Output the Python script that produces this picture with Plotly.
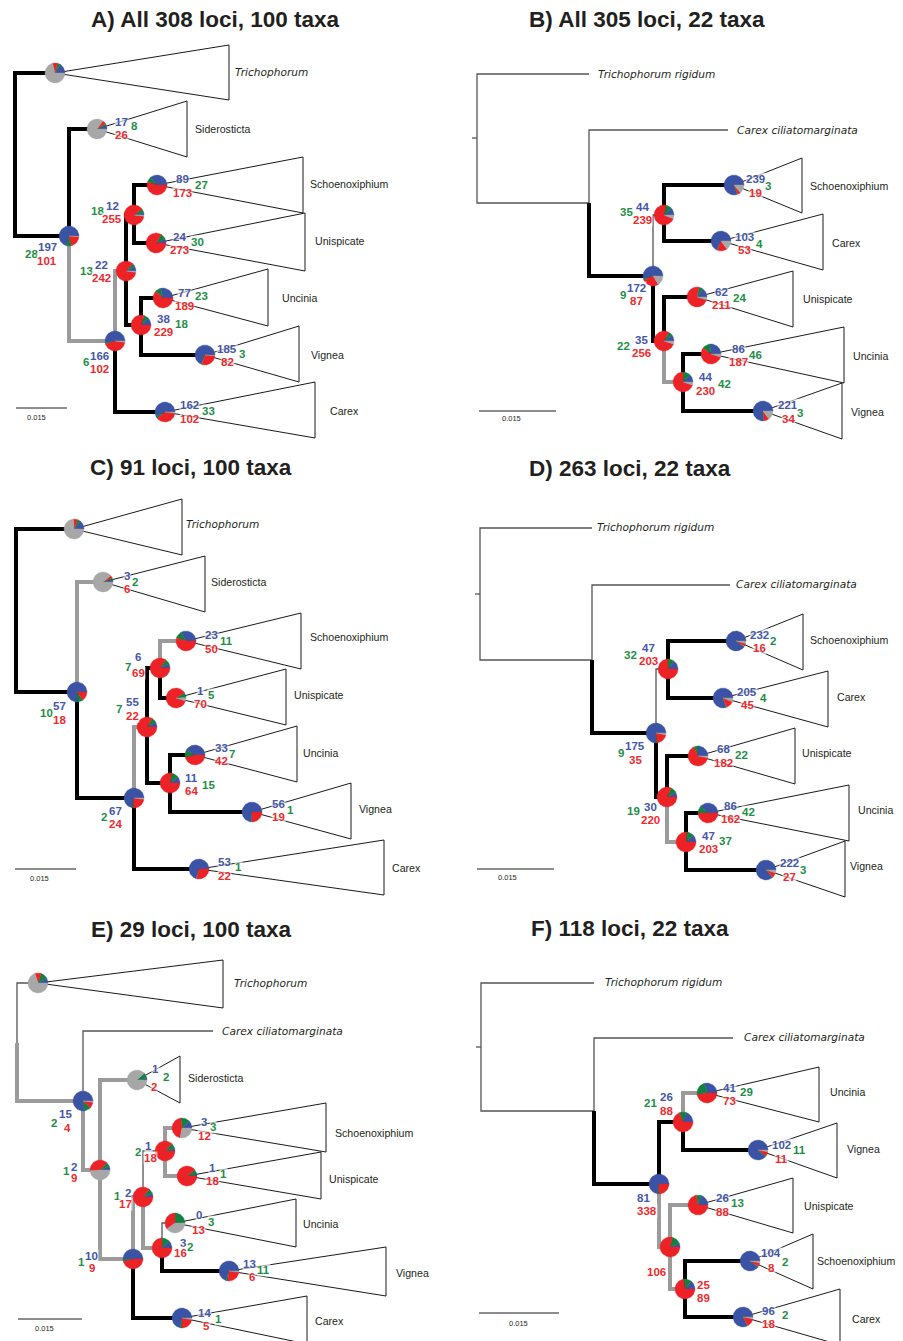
import math
import plotly.graph_objects as go

W, H = 903, 1341
PAGE_MARGIN = 8  # browser body margin; the axes are shifted so that data units equal page pixels

# ---------------- colours ----------------
PIE_COLORS = {"b": "#3A53A4", "g": "#12803F", "r": "#EC2227", "u": "#A7A7A7"}
TXT_COLORS = {"b": "#4457A8", "g": "#1E8E47", "r": "#EE2A2E"}
DARK = "#231F20"

# ---------------- titles ----------------
TITLES = ["A) All 308 loci, 100 taxa", "B) All 305 loci, 22 taxa",
          "C) 91 loci, 100 taxa", "D) 263 loci, 22 taxa",
          "E) 29 loci, 100 taxa", "F) 118 loci, 22 taxa"]
TITLE_XY = [(215, 19), (647, 19), (191, 467), (630, 468), (191, 929), (630, 928)]

CLADE_NAMES = {"tri": "Trichophorum", "sid": "Siderosticta", "sch": "Schoenoxiphium",
               "uni": "Unispicate", "unc": "Uncinia", "vig": "Vignea", "car": "Carex"}
ITALIC_CLADES = {"tri"}

# ================= Panel A =================
A_pos = {"root": (15, 155), "tri": (55, 73), "n1": (69, 236), "sid": (97, 129), "n2": (115, 341),
         "n3": (126, 271), "car": (165, 412), "n4": (134, 215), "sch": (157, 185), "uni": (156, 243),
         "n5": (141, 325), "unc": (163, 298), "vig": (205, 355)}
A_edges = [("root", "tri", "k"), ("root", "n1", "k"), ("n1", "sid", "k"), ("n1", "n2", "g"),
           ("n2", "n3", "g"), ("n2", "car", "k"), ("n3", "n4", "k"), ("n3", "n5", "k"),
           ("n4", "sch", "k"), ("n4", "uni", "k"), ("n5", "unc", "k"), ("n5", "vig", "k")]
# pie shares: concordant (blue), top conflict (green), other conflict (red), uninformative (gray)
A_pie = {"tri": (.16, .05, .08, .71), "sid": (.06, .03, .06, .85), "n1": (.71, .08, .20, .01),
         "n2": (.53, .02, .43, .02), "n3": (.08, .05, .85, .02), "n4": (.04, .06, .88, .02),
         "sch": (.36, .09, .55, 0), "uni": (.07, .09, .84, 0), "n5": (.12, .08, .80, 0),
         "unc": (.29, .09, .62, 0), "vig": (.69, .01, .29, .01), "car": (.57, .04, .37, .02)}
A_counts = {"sid": [("17", "b"), ("8", "g"), ("26", "r")], "n1": [("197", "b"), ("28", "g"), ("101", "r")],
            "n2": [("166", "b"), ("6", "g"), ("102", "r")], "n3": [("22", "b"), ("13", "g"), ("242", "r")],
            "n4": [("12", "b"), ("18", "g"), ("255", "r")], "sch": [("89", "b"), ("27", "g"), ("173", "r")],
            "uni": [("24", "b"), ("30", "g"), ("273", "r")], "n5": [("38", "b"), ("18", "g"), ("229", "r")],
            "unc": [("77", "b"), ("23", "g"), ("189", "r")], "vig": [("185", "b"), ("3", "g"), ("82", "r")],
            "car": [("162", "b"), ("33", "g"), ("102", "r")]}
A_count_xy = {"sid": [(121, 122), (134, 126), (121, 135)], "n1": [(47, 247), (31, 254), (47, 261)],
              "n2": [(99, 356), (86, 362), (99, 369)], "n3": [(101, 265), (86, 271), (101, 278)],
              "n4": [(112, 206), (97, 211), (112, 219)], "sch": [(182, 179), (201, 185), (182, 193)],
              "uni": [(179, 237), (197, 242), (179, 250)], "n5": [(163, 319), (181, 324), (163, 332)],
              "unc": [(184, 293), (201, 296), (184, 306)], "vig": [(227, 349), (242, 354), (227, 362)],
              "car": [(189, 405), (208, 411), (189, 419)]}
A_clade_geo = {"tri": (229, 45, 100, 233, 72), "sid": (187, 101, 157, 193, 129),
               "sch": (303, 157, 213, 308, 184), "uni": (305, 213, 271, 313, 241),
               "unc": (268, 269, 326, 280, 298), "vig": (299, 326, 382, 309, 355),
               "car": (315, 382, 438, 328, 411)}
A_leaves = {}
A_scale = (16, 67, 408, 36, 417)

# ================= Panel B =================
B_pos = {"root": (477, 138), "tr": (589, 74), "n1": (589, 203), "cc": (728, 130), "n2": (653, 276),
         "n3": (664, 215), "sch": (734, 185), "car": (721, 241), "n4": (664, 341), "uni": (697, 297),
         "n5": (683, 382), "unc": (711, 354), "vig": (763, 411)}
B_edges = [("root", "tr", "t"), ("root", "n1", "t"), ("n1", "cc", "t"), ("n1", "n2", "k"),
           ("n2", "n3", "t"), ("n2", "n4", "k"), ("n3", "sch", "k"), ("n3", "car", "k"),
           ("n4", "uni", "k"), ("n4", "n5", "g"), ("n5", "unc", "k"), ("n5", "vig", "k")]
B_pie = {"sch": (.80, .01, .05, .14), "car": (.68, .01, .16, .15), "n2": (.55, .02, .27, .16),
         "n3": (.12, .10, .72, .06), "uni": (.15, .07, .73, .05), "n4": (.10, .07, .78, .05),
         "unc": (.27, .13, .55, .05), "n5": (.13, .12, .70, .05), "vig": (.76, .01, .08, .15)}
B_counts = {"n2": [("172", "b"), ("9", "g"), ("87", "r")], "n3": [("44", "b"), ("35", "g"), ("239", "r")],
            "sch": [("239", "b"), ("3", "g"), ("19", "r")], "car": [("103", "b"), ("4", "g"), ("53", "r")],
            "n4": [("35", "b"), ("22", "g"), ("256", "r")], "uni": [("62", "b"), ("24", "g"), ("211", "r")],
            "n5": [("44", "b"), ("42", "g"), ("230", "r")], "unc": [("86", "b"), ("46", "g"), ("187", "r")],
            "vig": [("221", "b"), ("3", "g"), ("34", "r")]}
B_count_xy = {"n2": [(636, 288), (623, 295), (636, 301)], "n3": [(642, 207), (626, 212), (642, 220)],
              "sch": [(755, 179), (768, 186), (755, 193)], "car": [(744, 237), (759, 244), (744, 250)],
              "n4": [(641, 340), (623, 346), (641, 353)], "uni": [(721, 292), (739, 298), (721, 305)],
              "n5": [(705, 377), (724, 384), (705, 391)], "unc": [(738, 349), (755, 355), (738, 362)],
              "vig": [(788, 405), (800, 413), (788, 419)]}
B_clade_geo = {"sch": (802, 158, 213, 808, 186), "car": (823, 214, 270, 830, 243),
               "uni": (793, 271, 327, 801, 299), "unc": (844, 327, 383, 851, 356),
               "vig": (842, 383, 439, 849, 412)}
B_leaves = {"tr": ("Trichophorum rigidum", 596, 74), "cc": ("Carex ciliatomarginata", 735, 130)}
B_scale = (479, 556, 411, 511, 418)

# ================= Panel C =================
C_pos = {"root": (16, 610), "tri": (74, 529), "n1": (77, 692), "sid": (103, 582), "n2": (134, 798),
         "n3": (147, 727), "car": (199, 869), "n4": (160, 668), "sch": (186, 641), "uni": (176, 698),
         "n5": (170, 783), "unc": (195, 755), "vig": (252, 812)}
C_edges = [("root", "tri", "k"), ("root", "n1", "k"), ("n1", "sid", "g"), ("n1", "n2", "k"),
           ("n2", "n3", "g"), ("n2", "car", "k"), ("n3", "n4", "k"), ("n3", "n5", "k"),
           ("n4", "sch", "g"), ("n4", "uni", "k"), ("n5", "unc", "k"), ("n5", "vig", "k")]
C_pie = {"tri": (.14, .05, .07, .74), "sid": (.04, .03, .04, .89), "n1": (.76, .09, .15, 0),
         "n2": (.72, .02, .24, .02), "n3": (.08, .08, .84, 0), "n4": (.07, .08, .85, 0),
         "sch": (.33, .12, .55, 0), "uni": (.01, .08, .86, .05), "n5": (.10, .12, .78, 0),
         "unc": (.42, .12, .46, 0), "vig": (.74, .01, .25, 0), "car": (.70, .01, .29, 0)}
C_counts = {"sid": [("3", "b"), ("2", "g"), ("6", "r")], "n1": [("57", "b"), ("10", "g"), ("18", "r")],
            "n2": [("67", "b"), ("2", "g"), ("24", "r")], "n3": [("55", "b"), ("7", "g"), ("22", "r")],
            "n4": [("6", "b"), ("7", "g"), ("69", "r")], "sch": [("23", "b"), ("11", "g"), ("50", "r")],
            "uni": [("1", "b"), ("5", "g"), ("70", "r")], "n5": [("11", "b"), ("15", "g"), ("64", "r")],
            "unc": [("33", "b"), ("7", "g"), ("42", "r")], "vig": [("56", "b"), ("1", "g"), ("19", "r")],
            "car": [("53", "b"), ("1", "g"), ("22", "r")]}
C_count_xy = {"sid": [(127, 576), (135, 582), (127, 589)], "n1": [(59, 706), (46, 713), (59, 720)],
              "n2": [(115, 811), (104, 817), (115, 824)], "n3": [(132, 702), (119, 709), (132, 716)],
              "n4": [(138, 657), (128, 667), (138, 673)], "sch": [(211, 635), (226, 641), (211, 649)],
              "uni": [(200, 691), (211, 695), (200, 704)], "n5": [(191, 778), (208, 785), (191, 791)],
              "unc": [(221, 748), (232, 754), (221, 761)], "vig": [(278, 804), (290, 810), (278, 817)],
              "car": [(224, 862), (238, 867), (224, 876)]}
C_clade_geo = {"tri": (182, 499, 555, 184, 524), "sid": (205, 556, 612, 209, 582),
               "sch": (301, 613, 669, 308, 637), "uni": (286, 669, 725, 292, 695),
               "unc": (297, 726, 782, 301, 753), "vig": (351, 783, 839, 357, 809),
               "car": (384, 840, 895, 390, 868)}
C_leaves = {}
C_scale = (15, 76, 869, 39, 878)

# ================= Panel D =================
D_pos = {"root": (480, 594), "tr": (592, 528), "n1": (592, 660), "cc": (730, 585), "n2": (656, 733),
         "n3": (668, 669), "sch": (736, 641), "car": (723, 698), "n4": (667, 797), "uni": (698, 756),
         "n5": (686, 842), "unc": (708, 813), "vig": (766, 870)}
D_edges = [("root", "tr", "t"), ("root", "n1", "t"), ("n1", "cc", "t"), ("n1", "n2", "k"),
           ("n2", "n3", "t"), ("n2", "n4", "k"), ("n3", "sch", "k"), ("n3", "car", "k"),
           ("n4", "uni", "k"), ("n4", "n5", "g"), ("n5", "unc", "k"), ("n5", "vig", "k")]
D_pie = {"n2": (.75, .02, .20, .03), "n3": (.15, .10, .75, 0), "sch": (.90, .01, .05, .04),
         "car": (.80, .01, .13, .06), "n4": (.08, .10, .82, 0), "uni": (.25, .07, .65, .03),
         "n5": (.12, .12, .76, 0), "unc": (.38, .12, .50, 0), "vig": (.86, .01, .08, .05)}
D_counts = {"n2": [("175", "b"), ("9", "g"), ("35", "r")], "n3": [("47", "b"), ("32", "g"), ("203", "r")],
            "sch": [("232", "b"), ("2", "g"), ("16", "r")], "car": [("205", "b"), ("4", "g"), ("45", "r")],
            "n4": [("30", "b"), ("19", "g"), ("220", "r")], "uni": [("68", "b"), ("22", "g"), ("182", "r")],
            "n5": [("47", "b"), ("37", "g"), ("203", "r")], "unc": [("86", "b"), ("42", "g"), ("162", "r")],
            "vig": [("222", "b"), ("3", "g"), ("27", "r")]}
D_count_xy = {"n2": [(635, 746), (621, 753), (635, 760)], "n3": [(648, 648), (630, 655), (648, 661)],
              "sch": [(759, 635), (773, 641), (759, 648)], "car": [(747, 692), (763, 698), (747, 705)],
              "n4": [(650, 807), (633, 811), (650, 820)], "uni": [(723, 749), (741, 755), (723, 763)],
              "n5": [(708, 836), (725, 841), (708, 849)], "unc": [(730, 806), (748, 812), (730, 819)],
              "vig": [(789, 863), (803, 870), (789, 877)]}
D_clade_geo = {"sch": (803, 614, 670, 808, 640), "car": (828, 671, 727, 835, 697),
               "uni": (795, 728, 784, 800, 753), "unc": (849, 785, 841, 856, 810),
               "vig": (845, 841, 897, 848, 866)}
D_leaves = {"tr": ("Trichophorum rigidum", 595, 527), "cc": ("Carex ciliatomarginata", 734, 584)}
D_scale = (477, 554, 869, 507, 877)

# ================= Panel E =================
E_pos = {"root": (17, 1043), "tri": (38, 983), "n1": (83, 1101), "cc": (213, 1031), "sid": (137, 1080),
         "n2": (100, 1170), "n3": (133, 1259), "n4": (143, 1197), "car": (182, 1318), "n5": (165, 1151),
         "sch": (182, 1128), "uni": (187, 1176), "n6": (162, 1248), "unc": (175, 1223), "vig": (229, 1271)}
E_edges = [("root", "tri", "t"), ("root", "n1", "g"), ("n1", "cc", "t"), ("n1", "n2", "g"),
           ("n2", "sid", "g"), ("n2", "n3", "g"), ("n3", "n4", "g"), ("n3", "car", "k"),
           ("n4", "n5", "t"), ("n4", "n6", "g"), ("n5", "sch", "g"), ("n5", "uni", "g"),
           ("n6", "unc", "t"), ("n6", "vig", "k")]
E_pie = {"tri": (.08, .12, .10, .70), "n1": (.78, .10, .10, .02), "sid": (.03, .09, 0, .88),
         "n2": (.06, .07, .38, .49), "n3": (.51, .03, .46, 0), "n4": (.06, .08, .86, 0),
         "n5": (.04, .09, .87, 0), "sch": (.12, .15, .45, .28), "uni": (.03, .08, .89, 0),
         "n6": (.12, .13, .75, 0), "unc": (0, .25, .35, .40), "vig": (.70, .03, .25, .02),
         "car": (.72, .03, .22, .03)}
E_counts = {"n1": [("15", "b"), ("2", "g"), ("4", "r")], "sid": [("1", "b"), ("2", "g"), ("2", "r")],
            "n2": [("2", "b"), ("1", "g"), ("9", "r")], "n3": [("10", "b"), ("1", "g"), ("9", "r")],
            "n4": [("2", "b"), ("1", "g"), ("17", "r")], "n5": [("1", "b"), ("2", "g"), ("18", "r")],
            "sch": [("3", "b"), ("3", "g"), ("12", "r")], "uni": [("1", "b"), ("1", "g"), ("18", "r")],
            "n6": [("3", "b"), ("2", "g"), ("16", "r")], "unc": [("0", "b"), ("3", "g"), ("13", "r")],
            "vig": [("13", "b"), ("11", "g"), ("6", "r")], "car": [("14", "b"), ("1", "g"), ("5", "r")]}
E_count_xy = {"n1": [(65, 1114), (54, 1123), (67, 1128)], "sid": [(155, 1069), (166, 1077), (154, 1087)],
              "n2": [(74, 1167), (66, 1171), (74, 1178)], "n3": [(91, 1256), (81, 1262), (92, 1268)],
              "n4": [(128, 1193), (117, 1196), (125, 1204)], "n5": [(148, 1146), (138, 1152), (150, 1158)],
              "sch": [(204, 1122), (213, 1127), (204, 1136)], "uni": [(212, 1168), (223, 1174), (212, 1181)],
              "n6": [(183, 1243), (190, 1247), (180, 1253)], "unc": [(199, 1215), (211, 1222), (198, 1230)],
              "vig": [(249, 1264), (263, 1270), (252, 1277)], "car": [(204, 1313), (218, 1319), (206, 1326)]}
E_clade_geo = {"tri": (223, 960, 1008, 232, 983), "sid": (180, 1056, 1103, 186, 1078),
               "sch": (326, 1103, 1152, 333, 1133), "uni": (321, 1152, 1199, 327, 1179),
               "unc": (296, 1199, 1247, 301, 1224), "vig": (386, 1247, 1296, 394, 1273),
               "car": (307, 1296, 1344, 313, 1321)}
E_leaves = {"cc": ("Carex ciliatomarginata", 220, 1031)}
E_scale = (18, 82, 1319, 44, 1328)

# ================= Panel F =================
F_pos = {"root": (481, 1047), "tr": (594, 983), "n1": (594, 1111), "cc": (733, 1038), "n2": (659, 1184),
         "n3": (683, 1122), "unc": (707, 1093), "vig": (758, 1150), "n4": (670, 1247), "uni": (698, 1205),
         "n5": (685, 1289), "sch": (750, 1261), "car": (743, 1317)}
F_edges = [("root", "tr", "t"), ("root", "n1", "t"), ("n1", "cc", "t"), ("n1", "n2", "k"),
           ("n2", "n3", "k"), ("n2", "n4", "g"), ("n3", "unc", "g"), ("n3", "vig", "k"),
           ("n4", "uni", "g"), ("n4", "n5", "g"), ("n5", "sch", "k"), ("n5", "car", "k")]
F_pie = {"n2": (.73, .02, .25, 0), "n3": (.20, .11, .69, 0), "unc": (.29, .24, .47, 0),
         "vig": (.88, .02, .07, .03), "n4": (.06, .15, .79, 0), "uni": (.20, .08, .72, 0),
         "n5": (.14, .13, .73, 0), "sch": (.90, .01, .06, .03), "car": (.82, .01, .14, .03)}
F_counts = {"n2": [("81", "b"), ("338", "r")], "n3": [("26", "b"), ("21", "g"), ("88", "r")],
            "unc": [("41", "b"), ("29", "g"), ("73", "r")], "vig": [("102", "b"), ("11", "g"), ("11", "r")],
            "n4": [("106", "r")], "uni": [("26", "b"), ("13", "g"), ("88", "r")],
            "n5": [("25", "r"), ("89", "r")], "sch": [("104", "b"), ("2", "g"), ("8", "r")],
            "car": [("96", "b"), ("2", "g"), ("18", "r")]}
F_count_xy = {"n2": [(643, 1198), (647, 1211)], "n3": [(666, 1097), (650, 1103), (666, 1111)],
              "unc": [(729, 1088), (746, 1092), (729, 1101)], "vig": [(781, 1145), (799, 1150), (781, 1159)],
              "n4": [(656, 1272)], "uni": [(722, 1198), (737, 1203), (722, 1212)],
              "n5": [(703, 1285), (703, 1298)], "sch": [(771, 1253), (785, 1262), (771, 1268)],
              "car": [(768, 1311), (785, 1315), (768, 1324)]}
F_clade_geo = {"unc": (819, 1067, 1122, 828, 1092), "vig": (837, 1123, 1178, 845, 1149),
               "uni": (793, 1178, 1233, 802, 1206), "sch": (813, 1234, 1289, 815, 1261),
               "car": (840, 1289, 1345, 850, 1319)}
F_leaves = {"tr": ("Trichophorum rigidum", 603, 982), "cc": ("Carex ciliatomarginata", 742, 1037)}
F_scale = (479, 559, 1313, 518, 1323)

PANELS = [
    (A_pos, A_edges, A_pie, A_counts, A_count_xy, A_clade_geo, A_leaves, A_scale, False),
    (B_pos, B_edges, B_pie, B_counts, B_count_xy, B_clade_geo, B_leaves, B_scale, True),
    (C_pos, C_edges, C_pie, C_counts, C_count_xy, C_clade_geo, C_leaves, C_scale, False),
    (D_pos, D_edges, D_pie, D_counts, D_count_xy, D_clade_geo, D_leaves, D_scale, True),
    (E_pos, E_edges, E_pie, E_counts, E_count_xy, E_clade_geo, E_leaves, E_scale, False),
    (F_pos, F_edges, F_pie, F_counts, F_count_xy, F_clade_geo, F_leaves, F_scale, True),
]

# ---------------- styles ----------------
PIE_R = 10
EDGE_STYLE = {"t": dict(color="#555555", width=1.3),
              "g": dict(color="#9B9B9B", width=4),
              "k": dict(color="#000000", width=4)}
NAME_SIZE = 10.6

fig = go.Figure()

tri_x, tri_y = [], []
edge_xy = {"t": ([], []), "g": ([], []), "k": ([], [])}
scale_x, scale_y = [], []
wedges = {k: ([], []) for k in "bgru"}
annotations = []


def add_wedge(key, cx, cy, a0, a1):
    xs, ys = wedges[key]
    n = max(2, int((a1 - a0) / 3) + 1)
    xs.append(cx); ys.append(cy)
    for i in range(n + 1):
        a = math.radians(a0 + (a1 - a0) * i / n)
        xs.append(cx + PIE_R * math.cos(a))
        ys.append(cy - PIE_R * math.sin(a))
    xs.append(cx); ys.append(cy)
    xs.append(None); ys.append(None)


for (pos, edges, pies, counts, count_xy, clade_geo, leaves, scale, stub) in PANELS:
    # collapsed clades (triangles)
    for node, (rx, top, bot, lx, ly) in clade_geo.items():
        cx, cy = pos[node]
        tri_x += [cx, rx, rx, cx, None]
        tri_y += [cy, top, bot, cy, None]
        name = CLADE_NAMES[node]
        italic = node in ITALIC_CLADES
        annotations.append(dict(
            x=lx, y=ly, text=f"<i>{name}</i>" if italic else name, xanchor="left", yanchor="middle",
            showarrow=False, font=dict(family="DejaVu Sans" if italic else "Liberation Sans",
                                       size=NAME_SIZE, color=DARK)))
    # tree edges
    for p, c, s in edges:
        px, py = pos[p]
        cx, cy = pos[c]
        ex, ey = edge_xy[s]
        ex += [px, px, cx, None]
        ey += [py, cy, cy, None]
    if stub:
        rx, ry = pos["root"]
        edge_xy["t"][0].extend([rx - 5, rx, None])
        edge_xy["t"][1].extend([ry, ry, None])
    # single-taxon leaves
    for node, (name, lx, ly) in leaves.items():
        annotations.append(dict(x=lx, y=ly, text=f"<i>{name}</i>", xanchor="left", yanchor="middle",
                                showarrow=False, font=dict(family="DejaVu Sans", size=NAME_SIZE, color=DARK)))
    # pies
    for node, fr in pies.items():
        cx, cy = pos[node]
        tot = sum(fr)
        a = 0.0
        for key, f in zip("bgru", fr):
            if f <= 0:
                continue
            span = 360.0 * f / tot
            add_wedge(key, cx, cy, a, a + span)
            a += span
    # gene counts
    for node, items in counts.items():
        for (txt, col), (x, y) in zip(items, count_xy[node]):
            annotations.append(dict(x=x, y=y, text=f"<b>{txt}</b>", xanchor="center", yanchor="middle",
                                    showarrow=False, bgcolor="rgba(255,255,255,0.6)", borderpad=0,
                                    font=dict(family="Liberation Sans", size=11.5, color=TXT_COLORS[col])))
    # scale bar
    x0, x1, sy, lx, ly = scale
    scale_x += [x0, x1, None]
    scale_y += [sy, sy, None]
    annotations.append(dict(x=lx, y=ly, text="0.015", xanchor="center", yanchor="middle", showarrow=False,
                            font=dict(family="Liberation Sans", size=7.5, color=DARK)))

for title, (tx, ty) in zip(TITLES, TITLE_XY):
    annotations.append(dict(x=tx, y=ty, text=f"<b>{title}</b>", xanchor="center", yanchor="middle",
                            showarrow=False, font=dict(family="Liberation Sans", size=22.5, color=DARK)))

fig.add_trace(go.Scatter(x=tri_x, y=tri_y, mode="lines", line=dict(color="#1a1a1a", width=1),
                         hoverinfo="skip", showlegend=False))
fig.add_trace(go.Scatter(x=scale_x, y=scale_y, mode="lines", line=dict(color="#1a1a1a", width=1),
                         hoverinfo="skip", showlegend=False))
for s in ["t", "g", "k"]:
    ex, ey = edge_xy[s]
    fig.add_trace(go.Scatter(x=ex, y=ey, mode="lines", line=EDGE_STYLE[s], hoverinfo="skip",
                             showlegend=False))
for key in "bgru":
    xs, ys = wedges[key]
    fig.add_trace(go.Scatter(x=xs, y=ys, mode="lines", fill="toself", fillcolor=PIE_COLORS[key],
                             line=dict(color=PIE_COLORS[key], width=0.4), hoverinfo="skip",
                             showlegend=False))

# the page keeps its default 8px body margin; shift the axes so data units equal window pixels
fig.update_layout(
    width=W - PAGE_MARGIN, height=H - PAGE_MARGIN, margin=dict(l=0, r=0, t=0, b=0),
    paper_bgcolor="white", plot_bgcolor="white", showlegend=False, hovermode=False,
    xaxis=dict(range=[PAGE_MARGIN, W], visible=False, fixedrange=True),
    yaxis=dict(range=[H, PAGE_MARGIN], visible=False, fixedrange=True),
    annotations=annotations,
)

fig.write_html("out.html")
